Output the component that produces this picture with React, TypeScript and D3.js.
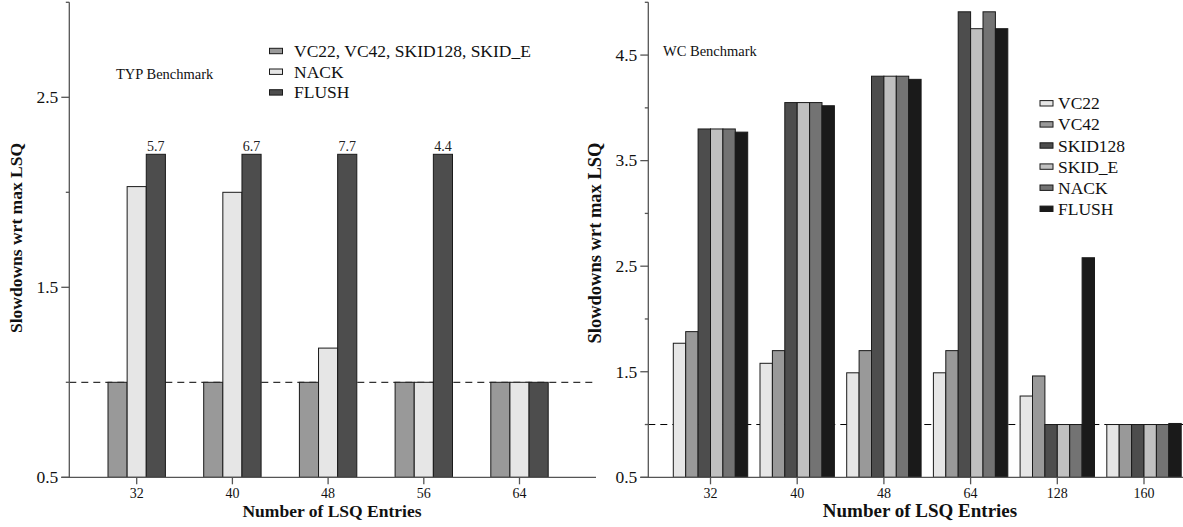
import React from 'react';
import * as d3 from 'd3';

// ---------- Data ----------
const leftCategories = ['32', '40', '48', '56', '64'];
const leftSeries = ['VC22, VC42, SKID128, SKID_E', 'NACK', 'FLUSH'];
const leftVC = [1.0, 1.0, 1.0, 1.0, 1.0];
const leftNACK = [2.03, 2.0, 1.18, 1.0, 1.0];
const leftFLUSH = [5.7, 6.7, 7.7, 4.4, 1.0];
const leftCap = 2.2; // bars beyond this are truncated and labelled
const leftYTicks = [0.5, 1.0, 1.5, 2.0, 2.5, 3.0];
const leftColors = ['#999999', '#e6e6e6', '#4d4d4d'];

const rightCategories = ['32', '40', '48', '64', '128', '160'];
const rightSeries = ['VC22', 'VC42', 'SKID128', 'SKID_E', 'NACK', 'FLUSH'];
const rVC22 = [1.77, 1.58, 1.49, 1.49, 1.27, 1.0];
const rVC42 = [1.88, 1.7, 1.7, 1.7, 1.46, 1.0];
const rSKID128 = [3.8, 4.05, 4.3, 4.91, 1.0, 1.0];
const rSKIDE = [3.8, 4.05, 4.3, 4.75, 1.0, 1.0];
const rNACK = [3.8, 4.05, 4.3, 4.91, 1.0, 1.0];
const rFLUSH = [3.77, 4.02, 4.27, 4.75, 2.58, 1.01];
const rightYTicks = [0.5, 1.0, 1.5, 2.0, 2.5, 3.0, 3.5, 4.0, 4.5, 5.0];
const rightColors = ['#e6e6e6', '#999999', '#4d4d4d', '#c0c0c0', '#737373', '#1a1a1a'];

const FONT = '"Liberation Serif", "Times New Roman", serif';
const AXIS = '#555';
const STROKE = '#1a1a1a';

type PanelProps = {
  categories: string[];
  series: string[];
  values: number[][];
  colors: string[];
  yDomain: [number, number];
  yTicks: number[];
  xRange: [number, number];
  groupHalf: number;
  axisX: number;
  axisEnd: number;
  cap?: number;
  title: string;
  titleX: number;
  titleY: number;
  xTitleX: number;
  xTitleSize: number;
  yTitleX: number;
  yTitleY: number;
  yTitleSize: number;
  legendX: number;
  legendTextX: number;
  legendY: number;
  legendStep: number;
};

function Panel(p: PanelProps) {
  const y = d3.scaleLinear().domain(p.yDomain).range([477.3, 2.3]);
  const x = d3.scalePoint<string>().domain(p.categories).range(p.xRange);
  const inner = d3.scaleBand<string>().domain(p.series).range([-p.groupHalf, p.groupHalf]).padding(0);
  const base = y(p.yDomain[0]);
  const bw = inner.bandwidth();
  const cap = p.cap ?? Infinity;

  return (
    <g>
      {/* reference dashed line at 1.0 */}
      <line x1={p.axisX} x2={p.axisEnd} y1={y(1)} y2={y(1)} stroke="#000" strokeWidth={1} strokeDasharray="7,5" />
      {/* bars */}
      {p.series.map((s, si) =>
        p.categories.map((c, ci) => {
          const v = p.values[si][ci];
          const shown = Math.min(v, cap);
          const bx = (x(c) as number) + (inner(s) as number);
          return (
            <g key={s + c}>
              <rect x={bx} y={y(shown)} width={bw} height={base - y(shown)} fill={p.colors[si]} stroke={STROKE} strokeWidth={1} />
              {v > cap && (
                <text x={bx + bw / 2} y={y(shown) - 3.5} textAnchor="middle" fontSize={14} fontFamily={FONT} fill="#222">
                  {v.toFixed(1)}
                </text>
              )}
            </g>
          );
        })
      )}
      {/* y axis */}
      <line x1={p.axisX} x2={p.axisX} y1={y(p.yDomain[1])} y2={base} stroke={AXIS} strokeWidth={1.3} />
      {p.yTicks.map((t) => {
        const major = Math.round(t * 2) % 2 === 1;
        return (
          <g key={'yt' + t}>
            <line x1={p.axisX - (major ? 8 : 3.5)} x2={p.axisX} y1={y(t)} y2={y(t)} stroke={AXIS} strokeWidth={1.3} />
            {major && (
              <text x={p.axisX - 11} y={y(t) + 5.8} textAnchor="end" fontSize={17.5} fontFamily={FONT} fill="#111">
                {t.toFixed(1)}
              </text>
            )}
          </g>
        );
      })}
      {/* x axis */}
      <line x1={p.axisX - 8} x2={p.axisEnd} y1={base} y2={base} stroke={AXIS} strokeWidth={1.3} />
      {p.categories.map((c) => (
        <g key={'xt' + c}>
          <line x1={x(c)} x2={x(c)} y1={base} y2={base + 7} stroke={AXIS} strokeWidth={1.3} />
          <text x={x(c)} y={497.5} textAnchor="middle" fontSize={14} fontFamily={FONT} fill="#111">
            {c}
          </text>
        </g>
      ))}
      <text x={p.xTitleX} y={517} textAnchor="middle" fontSize={p.xTitleSize} fontWeight="bold" fontFamily={FONT} fill="#111">
        Number of LSQ Entries
      </text>
      <text
        transform={`translate(${p.yTitleX},${p.yTitleY}) rotate(-90)`}
        textAnchor="middle"
        fontSize={p.yTitleSize}
        fontWeight="bold"
        fontFamily={FONT}
        fill="#111"
      >
        Slowdowns wrt max LSQ
      </text>
      <text x={p.titleX} y={p.titleY} fontSize={14.5} fontFamily={FONT} fill="#111">
        {p.title}
      </text>
      {/* legend */}
      {p.series.map((s, si) => {
        const ly = p.legendY + si * p.legendStep;
        return (
          <g key={'lg' + s}>
            <rect x={p.legendX} y={ly - 2.7} width={13} height={5.4} fill={p.colors[si]} stroke={STROKE} strokeWidth={1} />
            <text x={p.legendTextX} y={ly + 6} fontSize={17.5} fontFamily={FONT} fill="#111">
              {s}
            </text>
          </g>
        );
      })}
    </g>
  );
}

export default function App() {
  return (
    <svg width={1183} height={527} style={{ position: 'absolute', left: 0, top: 0, background: '#fff' }}>
      <rect x={0} y={0} width={1183} height={527} fill="#fff" />
      <Panel
        categories={leftCategories}
        series={leftSeries}
        values={[leftVC, leftNACK, leftFLUSH]}
        colors={leftColors}
        yDomain={[0.5, 3.0]}
        yTicks={leftYTicks}
        xRange={[136.7, 519.5]}
        groupHalf={28.7}
        axisX={69.3}
        axisEnd={596}
        cap={leftCap}
        title="TYP Benchmark"
        titleX={116}
        titleY={79}
        xTitleX={332}
        xTitleSize={17.5}
        yTitleX={22}
        yTitleY={238}
        yTitleSize={17.5}
        legendX={269.5}
        legendTextX={294}
        legendY={51}
        legendStep={20.7}
      />
      <Panel
        categories={rightCategories}
        series={rightSeries}
        values={[rVC22, rVC42, rSKID128, rSKIDE, rNACK, rFLUSH]}
        colors={rightColors}
        yDomain={[0.5, 5.0]}
        yTicks={rightYTicks}
        xRange={[710.5, 1144]}
        groupHalf={37.2}
        axisX={648.3}
        axisEnd={1183}
        title="WC Benchmark"
        titleX={663}
        titleY={56}
        xTitleX={920}
        xTitleSize={19}
        yTitleX={601}
        yTitleY={243}
        yTitleSize={18.5}
        legendX={1040}
        legendTextX={1058}
        legendY={103.3}
        legendStep={21.1}
      />
    </svg>
  );
}
